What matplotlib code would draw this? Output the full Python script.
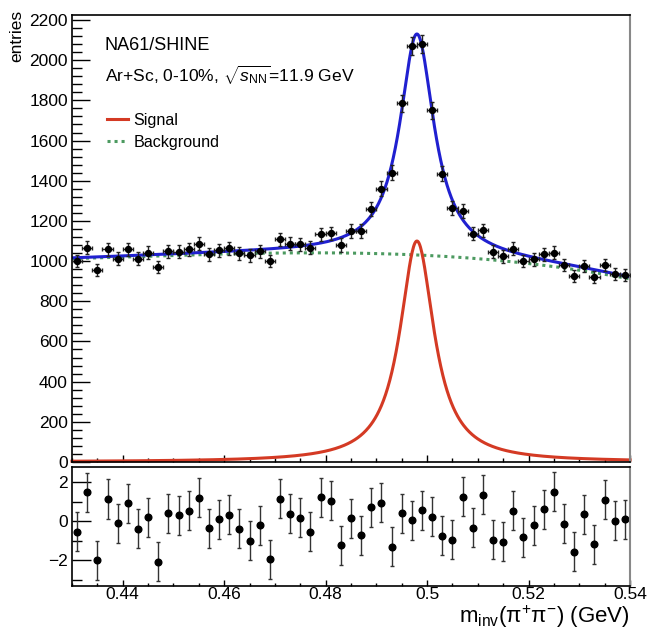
import numpy as np
import matplotlib
matplotlib.use("Agg")
import matplotlib.pyplot as plt
from matplotlib.ticker import MultipleLocator, FixedLocator
from matplotlib.lines import Line2D

plt.rcParams['font.family'] = ['Liberation Sans', 'DejaVu Sans']
plt.rcParams['mathtext.fontset'] = 'custom'
plt.rcParams['mathtext.rm'] = 'Liberation Sans'
plt.rcParams['mathtext.it'] = 'Liberation Sans:italic'
plt.rcParams['mathtext.bf'] = 'Liberation Sans:bold'

# histogram binning (GeV)
bin_lo = 0.43
bin_width = 0.002
n_bins = 55

# entries per bin
entries = [1000, 1067, 955, 1058, 1012, 1058, 1012, 1042, 970, 1050,
           1047, 1058, 1087, 1033, 1053, 1063, 1038, 1028, 1050, 1000,
           1108, 1087, 1083, 1067, 1133, 1138, 1080, 1150, 1150, 1260,
           1360, 1440, 1785, 2070, 2080, 1750, 1435, 1265, 1250, 1137,
           1153, 1047, 1025, 1062, 1000, 1008, 1033, 1042, 980, 925,
           975, 920, 980, 937, 930]

# residuals (data - fit) / error, bottom panel
residuals = [-0.55, 1.47, -2.0, 1.13, -0.12, 0.9, -0.39, 0.19, -2.09, 0.39,
             0.29, 0.53, 1.2, -0.38, 0.09, 0.31, -0.39, -1.0, -0.22, -1.97,
             1.15, 0.38, 0.17, -0.56, 1.21, 1.03, -1.25, 0.14, -0.72, 0.70,
             0.94, -1.32, 0.39, 0.05, 0.56, 0.22, -0.75, -0.97, 1.25, -0.34,
             1.35, -0.97, -1.06, 0.53, -0.84, -0.22, 0.6, 1.5, -0.15, -1.57,
             0.34, -1.18, 1.08, 0.02, 0.10]

# fit parameters: Lorentzian signal + cubic background (in u = m - 0.47)
sig_amp = 1100.0
sig_mass = 0.498
sig_halfwidth = 0.0041
bg_ref = 0.47
bg_coef = [1040.0, 298.0, -17423.0, -187500.0]

xticks = [0.44, 0.46, 0.48, 0.5, 0.52, 0.54]
xtick_labels = ['0.44', '0.46', '0.48', '0.5', '0.52', '0.54']

mass = bin_lo + bin_width * (np.arange(n_bins) + 0.5)
entries = np.array(entries, dtype=float)
residuals = np.array(residuals)

grid = np.linspace(0.43, 0.54, 800)
u = grid - bg_ref
background = bg_coef[0] + bg_coef[1]*u + bg_coef[2]*u**2 + bg_coef[3]*u**3
signal = sig_amp / (1 + ((grid - sig_mass) / sig_halfwidth)**2)
total = signal + background

blue = '#2020d0'
red = '#d43a24'
green = '#4c9a60'

fig = plt.figure(figsize=(6.47, 6.30), dpi=100)
ax = fig.add_axes([72/647, 1-462/630, 558/647, 447/630])
axr = fig.add_axes([72/647, 1-586/630, 558/647, 119/630])

ax.plot(grid, background, color=green, lw=2.2, linestyle=(0, (1, 1.3)), zorder=2)
ax.plot(grid, signal, color=red, lw=2.2, zorder=2, clip_on=False)
ax.plot(grid, total, color=blue, lw=2.2, zorder=2)
ax.errorbar(mass, entries, yerr=np.sqrt(entries), xerr=bin_width/2, fmt='o',
            color='black', ecolor='#222222', ms=4.3, elinewidth=1,
            capsize=1.5, capthick=1, zorder=3)

ax.set_xlim(0.43, 0.54)
ax.set_ylim(0, 2225)
ax.yaxis.set_major_locator(FixedLocator(np.arange(0, 2201, 200)))
ax.yaxis.set_minor_locator(MultipleLocator(40))
ax.xaxis.set_major_locator(FixedLocator(xticks))
ax.xaxis.set_minor_locator(MultipleLocator(0.005))
ax.tick_params(axis='y', which='major', direction='in', length=13, width=1,
               labelsize=12.5, pad=3)
ax.tick_params(axis='y', which='minor', direction='in', length=7, width=1)
ax.tick_params(axis='x', which='major', direction='in', length=5, width=1,
               labelbottom=False)
ax.tick_params(axis='x', which='minor', direction='in', length=3, width=1)

ax.text(105/647, 1-45/630, 'NA61/SHINE', transform=fig.transFigure,
        fontsize=13, va='center', ha='left')
ax.text(105/647, 1-75/630, r'Ar+Sc, 0-10%, $\sqrt{s_{\rm NN}}$=11.9 GeV',
        transform=fig.transFigure, fontsize=12.6, va='center', ha='left')

handles = [Line2D([], [], color=red, lw=2.2),
           Line2D([], [], color=green, lw=2.2, linestyle=(0, (1, 1.3)))]
ax.legend(handles, ['Signal', 'Background'], loc='upper left',
          bbox_to_anchor=(107/647, 1-113/630), bbox_transform=fig.transFigure,
          frameon=False, fontsize=11.6, handlelength=1.3, handletextpad=0.35,
          labelspacing=0.42, borderpad=0, borderaxespad=0)

axr.errorbar(mass, residuals, yerr=np.ones(n_bins), fmt='o', color='black',
             ecolor='#333333', ms=4.8, elinewidth=1, capsize=1.5, capthick=1)
axr.set_xlim(0.43, 0.54)
axr.set_ylim(-3.33, 2.77)
axr.yaxis.set_major_locator(FixedLocator([-2, 0, 2]))
axr.yaxis.set_minor_locator(FixedLocator([-3, -1, 1]))
axr.xaxis.set_major_locator(FixedLocator(xticks))
axr.set_xticklabels(xtick_labels)
axr.xaxis.set_minor_locator(MultipleLocator(0.005))
axr.tick_params(axis='y', which='major', direction='in', length=14, width=1,
                labelsize=12.5, pad=3)
axr.tick_params(axis='y', which='minor', direction='in', length=7, width=1)
axr.tick_params(axis='x', which='major', direction='in', length=4, width=1,
                labelsize=12.5, pad=1)
axr.tick_params(axis='x', which='minor', direction='in', length=2, width=1)

for a in (ax, axr):
    for s in ('left', 'bottom', 'top'):
        a.spines[s].set_linewidth(1.2)
    a.spines['right'].set_color('#888888')
    a.spines['right'].set_linewidth(1.5)

fig.text(17/647, 1-10/630, 'entries', rotation=90, ha='center', va='top',
         fontsize=12.5)
fig.text(630/647, 1-630/630, r'm$_{\rm inv}$(π$^{+}$π$^{-}$) (GeV)',
         ha='right', va='bottom', fontsize=16)

fig.savefig('out.png', dpi=100)
